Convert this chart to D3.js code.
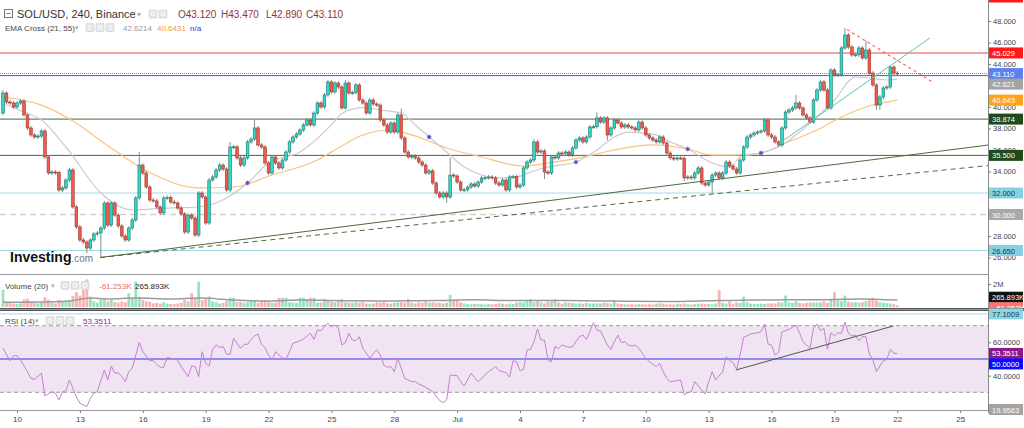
<!DOCTYPE html>
<html>
<head>
<meta charset="utf-8">
<script src="https://cdn.jsdelivr.net/npm/d3@7"></script>
<style>
  body { margin: 0; background: #fff; }
  svg { display: block; font-family: "Liberation Sans", Arial, sans-serif; }
</style>
</head>
<body>
<svg id="chart" width="1024" height="428"></svg>
<script>
// SOL/USD 4h candles, first one Jun 9 08:00 UTC
const firstCandle = new Date(Date.UTC(2021, 5, 9, 8));
const firstOpen = 39.44;
const closes = [
  41.30, 40.46, 40.37, 40.00, 40.37, 40.56, 39.26, 38.05, 37.40, 37.21,
  37.30, 37.77, 35.35, 33.86, 33.95, 33.90, 32.28, 32.47, 33.21, 34.14,
  30.70, 28.84, 27.63, 27.44, 26.88, 27.63, 28.19, 28.28, 28.74, 31.07,
  29.02, 31.07, 29.95, 28.93, 28.00, 27.63, 28.74, 29.49, 31.54, 34.60,
  33.86, 32.56, 31.35, 31.26, 30.70, 30.14, 31.54, 31.60, 31.16, 31.07,
  30.60, 30.05, 28.37, 29.95, 29.67, 28.09, 32.00, 31.63, 29.21, 33.21,
  33.49, 34.14, 34.60, 34.23, 32.28, 36.28, 36.30, 35.26, 34.60, 35.26,
  36.75, 37.02, 38.05, 36.47, 36.28, 34.79, 33.86, 35.35, 34.79, 34.33,
  35.07, 35.81, 36.75, 37.21, 37.49, 37.86, 38.33, 38.79, 38.33, 39.44,
  40.37, 40.00, 41.12, 42.33, 41.40, 42.23, 41.86, 39.91, 42.23, 41.30,
  41.35, 42.05, 40.65, 40.37, 39.44, 40.65, 40.28, 40.18, 38.79, 38.33,
  37.67, 38.51, 37.67, 39.26, 37.12, 35.81, 35.35, 35.44, 35.26, 34.88,
  34.60, 33.86, 34.06, 32.93, 32.00, 31.63, 32.00, 31.63, 33.67, 33.58,
  33.02, 32.28, 32.30, 32.55, 32.84, 32.65, 33.02, 33.40, 33.42, 33.49,
  33.40, 32.93, 32.74, 33.21, 32.28, 33.49, 33.52, 32.56, 32.74, 34.33,
  34.88, 35.07, 36.75, 35.81, 35.91, 33.95, 33.86, 35.35, 35.26, 35.72,
  35.70, 35.81, 35.53, 36.19, 36.93, 37.12, 36.75, 37.21, 38.14, 38.16,
  38.98, 38.60, 38.98, 37.40, 38.05, 38.79, 38.51, 38.14, 38.33, 38.14,
  38.05, 37.86, 38.60, 38.05, 37.40, 37.12, 36.93, 36.75, 37.21, 36.65,
  35.72, 35.26, 35.16, 35.26, 35.24, 33.40, 33.49, 33.40, 33.86, 34.33,
  32.93, 32.74, 33.02, 33.67, 33.86, 33.40, 33.86, 34.88, 34.51, 34.23,
  33.86, 35.07, 36.28, 37.21, 37.40, 37.58, 37.67, 37.77, 38.79, 37.40,
  37.21, 36.75, 36.47, 38.05, 39.53, 39.72, 39.91, 40.37, 39.91, 39.26,
  38.98, 38.60, 40.65, 41.58, 42.33, 41.58, 39.91, 43.44, 42.98, 43.00,
  45.49, 46.70, 45.58, 44.84, 44.86, 45.49, 44.56, 45.30, 43.16, 42.05,
  40.18, 40.93, 41.77, 41.86, 43.72, 43.16, 43.11
];
// visible long wicks, by candle index
const wickHigh = {0: 41.6, 39: 35.81, 65: 36.75, 72: 38.79, 98: 42.51, 114: 39.86, 128: 35.3,
  152: 37.0, 170: 39.5, 218: 39.0, 227: 41.12, 241: 47.35, 247: 46.2};
const wickLow = {24: 26.4, 28: 26.0, 127: 31.07, 155: 33.3, 173: 36.9, 195: 33.1, 203: 32.0,
  250: 39.7, 251: 39.75};
const wickPad = 0.18;

// volume in thousands
const volumes = [
  1500, 450, 380, 300, 280, 320, 650, 720, 480, 380,
  320, 420, 850, 640, 380, 300, 620, 420, 460, 520,
  950, 1300, 1000, 1500, 2400, 900, 520, 380, 650, 720,
  520, 620, 420, 380, 470, 420, 1200, 700, 2200, 900,
  620, 520, 460, 320, 360, 300, 420, 300, 260, 250,
  300, 360, 620, 500, 1200, 700, 2200, 600, 720, 900,
  500, 420, 300, 360, 520, 820, 800, 420, 450, 380,
  420, 560, 600, 380, 520, 600, 420, 380, 400, 800,
  800, 800, 420, 380, 360, 800, 800, 700, 800, 800,
  380, 400, 700, 520, 480, 420, 600, 680, 420, 380,
  360, 420, 380, 420, 300, 280, 300, 420, 380, 480,
  320, 300, 360, 400, 420, 380, 700, 360, 300, 400,
  360, 480, 380, 420, 360, 380, 300, 360, 1050, 640,
  640, 420, 320, 260, 240, 280, 260, 240, 220, 260,
  240, 260, 320, 280, 240, 300, 260, 380, 420, 380,
  510, 700, 420, 510, 400, 320, 480, 480, 670, 380,
  300, 400, 380, 340, 300, 320, 280, 340, 300, 320,
  320, 300, 380, 340, 300, 560, 300, 260, 240, 220,
  240, 220, 260, 240, 220, 240, 220, 280, 320, 300,
  240, 220, 220, 300, 260, 300, 240, 220, 260, 280,
  300, 260, 280, 240, 300, 1470, 380, 300, 480, 300,
  400, 360, 900, 420, 300, 280, 250, 300, 260, 300,
  320, 300, 420, 380, 990, 420, 380, 510, 360, 320,
  360, 380, 400, 400, 400, 510, 380, 670, 1280, 600,
  520, 990, 480, 400, 420, 380, 420, 520, 600, 800,
  560, 420, 400, 340, 300, 240, 150
];
const volMaPoints = [[0,420],[10,430],[19,520],[25,780],[30,700],[38,780],[48,700],[57,780],[66,600],
  [76,520],[85,600],[95,560],[110,520],[125,560],[135,620],[145,560],[160,560],[175,520],[190,480],
  [205,560],[215,600],[225,640],[235,640],[245,700],[256,600]];

// EMA Cross (21, 55) as [candle index, value]
const ema21Points = [[0,40.3],[6,39.53],[11,38.79],[18,36.28],[28,32.0],[37,30.42],[47,30.6],[56,30.7],
  [61,31.07],[70,32.93],[76,34.79],[85,35.81],[94,38.33],[97,39.4],[103,39.95],[108,39.72],[114,39.44],
  [118,38.33],[122,37.21],[127,35.81],[132,34.42],[137,33.67],[141,33.4],[147,33.49],[151,33.95],
  [156,34.42],[164,34.88],[170,36.0],[175,37.21],[179,37.67],[187,37.4],[190,36.9],[196,36.09],
  [203,34.79],[208,34.4],[211,35.35],[217,35.72],[223,36.47],[231,38.51],[238,40.65],[244,42.79],
  [248,42.7],[253,42.51],[256,42.62]];
const ema55Points = [[0,40.93],[11,40.18],[20,38.7],[30,36.4],[42,33.9],[56,32.47],[66,32.56],[77,33.67],
  [90,35.07],[96,36.19],[103,37.4],[111,37.86],[117,37.4],[127,36.19],[137,35.35],[149,34.51],
  [156,34.79],[165,35.26],[175,36.0],[186,36.47],[196,36.09],[203,35.53],[209,35.53],[217,35.72],
  [224,36.65],[233,37.86],[240,39.07],[247,40.0],[256,40.64]];
const emaCrosses = [[70,32.93],[122,37.21],[164,34.88],[196,36.09],[217,35.72]];

// RSI (14) as [candle index, value]
const rsiPoints = [
  [0,56.4],[2,49.0],[3,52.0],[4,52.0],[5,49.4],[7,42.4],[8,38.4],[9,37.8],[11,41.4],[12,27.8],
  [14,30.4],[15,29.4],[16,25.4],[17,30.4],[18,30.8],[19,37.4],[20,32.4],[21,27.4],[22,23.4],[24,21.4],
  [25,26.4],[26,29.4],[27,30.4],[29,43.4],[30,37.4],[31,45.8],[32,41.4],[33,41.8],[34,39.4],[35,36.4],
  [36,42.4],[37,44.4],[39,60.0],[40,54.4],[42,49.0],[43,49.0],[44,46.8],[45,45.0],[46,45.0],[47,51.0],
  [48,50.4],[50,49.4],[51,45.4],[53,39.4],[54,45.8],[55,45.4],[56,39.4],[57,54.4],[58,47.4],[59,45.8],
  [60,55.8],[61,58.4],[62,57.0],[63,57.4],[64,53.0],[65,52.8],[66,62.4],[67,59.4],[68,56.4],[69,58.8],
  [70,58.8],[71,61.8],[72,63.8],[73,65.0],[74,58.8],[75,56.8],[76,52.4],[77,49.4],[78,54.4],[79,52.4],
  [80,50.8],[81,49.8],[82,54.4],[83,59.4],[85,61.0],[86,62.0],[88,65.4],[89,61.8],[90,67.4],[91,67.0],
  [92,69.4],[93,71.4],[94,69.4],[95,70.4],[96,68.4],[97,58.4],[98,59.8],[99,65.4],[100,61.4],[101,61.0],
  [102,63.4],[103,56.4],[105,50.4],[106,53.4],[107,55.4],[108,52.4],[109,46.4],[110,45.0],[111,45.4],[112,42.4],
  [113,50.4],[115,38.4],[117,36.4],[118,36.4],[119,35.0],[121,33.0],[123,30.4],[125,25.0],[126,23.8],[127,25.4],
  [128,40.4],[130,40.0],[131,36.4],[132,33.8],[134,41.4],[135,38.8],[136,36.4],[138,40.4],[139,42.4],[141,45.4],
  [142,43.0],[144,41.8],[145,39.0],[146,49.0],[147,48.4],[148,43.0],[149,43.8],[150,55.4],[151,55.8],[152,60.4],
  [153,68.0],[154,61.4],[155,61.4],[156,49.4],[157,48.4],[158,57.4],[159,56.4],[160,58.4],[162,57.0],[163,57.4],
  [165,63.4],[166,64.4],[167,61.8],[168,66.4],[169,71.8],[170,67.4],[171,67.0],[173,58.4],[174,55.8],[175,60.4],
  [176,64.4],[177,59.8],[178,60.4],[179,58.4],[180,57.8],[181,58.4],[182,56.4],[184,50.4],[185,48.4],[187,45.4],
  [188,47.4],[189,42.4],[190,38.4],[191,36.4],[193,37.0],[194,37.4],[195,28.4],[196,29.8],[197,30.4],[198,36.4],
  [200,31.4],[201,29.0],[202,36.4],[203,42.4],[204,37.4],[206,42.4],[207,51.4],[208,49.0],[209,47.8],[210,43.8],
  [211,52.4],[212,63.0],[214,65.0],[216,65.8],[217,66.4],[218,71.0],[219,59.0],[220,58.4],[221,52.4],[222,53.8],
  [223,66.4],[225,67.8],[227,70.4],[228,65.8],[229,60.4],[231,56.4],[232,68.4],[233,71.0],[234,67.0],[235,68.4],
  [236,55.8],[237,65.8],[238,63.8],[239,65.8],[240,65.4],[241,72.2],[242,65.4],[243,63.8],[244,64.4],[245,61.0],
  [246,63.4],[247,63.4],[248,53.0],[249,49.4],[250,42.4],[251,45.8],[252,49.0],[253,49.8],[254,55.8],[255,53.4],
  [256,53.35]
];
const rsiTrend = [[209.8, 43.4], [254.8, 69.8]];

// drawn levels and trend lines (price units, candle index units)
const levelPrices = [45.029, 43.11, 42.92, 38.874, 35.5, 32.0, 30.0, 26.65];
const trendLines = [
  [[27.8, 26.0], [282, 36.46]],
  [[27.8, 26.0], [282, 34.56]],
  [[221.5, 36.46], [265.3, 46.42]],
  [[241.6, 47.21], [265.9, 42.37]]
];

// price ticks that are not hidden behind a value box
const priceTicks = [26, 28, 34, 36, 38, 40, 44, 46, 48];
const priceLabels = [45.029, 43.110, 42.621, 40.643, 38.874, 35.500, 32.000, 30.000, 26.650];
const rsiLabels = [77.1009, 53.3511, 50.0000, 19.9563];
const volLabels = [265.893, -61.253];
const dateTicks = ["2021-06-10", "2021-06-13", "2021-06-16", "2021-06-19", "2021-06-22", "2021-06-25",
  "2021-06-28", "2021-07-01", "2021-07-04", "2021-07-07", "2021-07-10", "2021-07-13", "2021-07-16",
  "2021-07-19", "2021-07-22", "2021-07-25"];
const dateLabels = ["10", "13", "16", "19", "22", "25", "28", "Jul", "4", "7", "10", "13", "16", "19", "22", "25"];

// ---------------------------------------------------------------
const svg = d3.select("#chart");
const axisX = 988;

const x = d3.scaleUtc()
  .domain([new Date(Date.UTC(2021, 5, 10)), new Date(Date.UTC(2021, 6, 25))])
  .range([17, 17 + 45 * 20.96]);
const y = d3.scaleLinear().domain([26, 48]).range([257.5, 21]);
const yVol = d3.scaleLinear().domain([0, 2000]).range([307, 284]);
const yRsi = d3.scaleLinear().domain([30, 70]).range([392.3, 325.7]);

const timeAt = i => new Date(+firstCandle + i * 4 * 3600e3);
const xi = i => x(timeAt(i));

const defs = svg.append("defs");
function addClip(id, x0, y0, w, h) {
  defs.append("clipPath").attr("id", id)
    .append("rect").attr("x", x0).attr("y", y0).attr("width", w).attr("height", h);
}
addClip("cMain", 0, 0, axisX, 274);
addClip("cVol", 0, 275, axisX, 33);
addClip("cRsi", 0, 311, axisX, 99);
addClip("cVolBox", axisX, 275, 40, 33);

// ---------- main price panel
const main = svg.append("g").attr("clip-path", "url(#cMain)");

const levelStyle = [
  { c: "#f6a3a3", w: 2 },
  { c: "#6f7fe6", w: 1, d: "1,1" },
  { c: "#3f56dd", w: 1 },
  { c: "#4a6540", w: 1 },
  { c: "#4a6540", w: 1 },
  { c: "#a2d8e4", w: 1 },
  { c: "#cfcfcf", w: 1.5, d: "6,4" },
  { c: "#a2d8e4", w: 1 }
];
main.selectAll(".level").data(levelPrices).enter().append("line")
  .attr("x1", 0).attr("x2", axisX)
  .attr("y1", d => y(d)).attr("y2", d => y(d))
  .attr("stroke", (d, i) => levelStyle[i].c)
  .attr("stroke-width", (d, i) => levelStyle[i].w)
  .attr("stroke-dasharray", (d, i) => levelStyle[i].d || null);

const emaLine = d3.line().x(d => xi(d[0])).y(d => y(d[1])).curve(d3.curveMonotoneX);
main.append("path").attr("d", emaLine(ema55Points))
  .attr("fill", "none").attr("stroke", "#fbc27e").attr("stroke-width", 1.2);
main.append("path").attr("d", emaLine(ema21Points))
  .attr("fill", "none").attr("stroke", "#cbcbcb").attr("stroke-width", 1.2);

const candles = closes.map((c, i) => {
  const o = i === 0 ? firstOpen : closes[i - 1];
  return {
    i, o, c,
    h: wickHigh[i] !== undefined ? wickHigh[i] : Math.max(o, c) + wickPad,
    l: wickLow[i] !== undefined ? wickLow[i] : Math.min(o, c) - wickPad,
    up: c >= o
  };
});

main.selectAll(".wick").data(candles).enter().append("line")
  .attr("x1", d => xi(d.i)).attr("x2", d => xi(d.i))
  .attr("y1", d => y(d.h)).attr("y2", d => y(d.l))
  .attr("stroke", "#7e9184").attr("stroke-width", 1);

main.selectAll(".body").data(candles).enter().append("rect")
  .attr("x", d => xi(d.i) - 1.35)
  .attr("width", 2.7)
  .attr("y", d => y(Math.max(d.o, d.c)))
  .attr("height", d => Math.max(1, Math.abs(y(d.o) - y(d.c))))
  .attr("fill", d => d.up ? "#2fd8c7" : "#ee5b4f")
  .attr("stroke", d => d.up ? "#1f7468" : "#a3342b")
  .attr("stroke-width", 0.6);

const tlStyle = [
  { c: "#4d6b3c", w: 1 },
  { c: "#4d6b3c", w: 1, d: "5,4" },
  { c: "#5fc3aa", w: 1 },
  { c: "#f26d6d", w: 1.2, d: "3,3" }
];
main.selectAll(".trend").data(trendLines).enter().append("line")
  .attr("x1", d => xi(d[0][0])).attr("y1", d => y(d[0][1]))
  .attr("x2", d => xi(d[1][0])).attr("y2", d => y(d[1][1]))
  .attr("stroke", (d, i) => tlStyle[i].c)
  .attr("stroke-width", (d, i) => tlStyle[i].w)
  .attr("stroke-dasharray", (d, i) => tlStyle[i].d || null);

main.selectAll(".cross").data(emaCrosses).enter().append("path")
  .attr("d", d3.symbol().type(d3.symbolAsterisk).size(14))
  .attr("transform", d => `translate(${xi(d[0])},${y(d[1])})`)
  .attr("stroke", "#5b4fd0").attr("stroke-width", 1.2).attr("fill", "none");

// investing.com watermark
const logo = main.append("text").attr("x", 10).attr("y", 262);
logo.append("tspan").text("Investing").attr("font-size", 14).attr("font-weight", "bold").attr("fill", "#111");
logo.append("tspan").text(".com").attr("font-size", 10).attr("fill", "#777");

// ---------- volume panel
const vol = svg.append("g").attr("clip-path", "url(#cVol)");
vol.selectAll(".vbar").data(candles).enter().append("rect")
  .attr("x", d => xi(d.i) - 1.4)
  .attr("width", 2.8)
  .attr("y", d => yVol(volumes[d.i]))
  .attr("height", d => yVol(0) - yVol(volumes[d.i]))
  .attr("fill", d => d.up ? "#95e3c3" : "#f8b4b0");
vol.append("path")
  .attr("d", d3.line().x(d => xi(d[0])).y(d => yVol(d[1])).curve(d3.curveMonotoneX)(volMaPoints))
  .attr("fill", "none").attr("stroke", "#9c9c9c").attr("stroke-width", 1.5);

// ---------- RSI panel
const rsi = svg.append("g").attr("clip-path", "url(#cRsi)");
rsi.append("rect").attr("x", 0).attr("width", axisX)
  .attr("y", yRsi(70)).attr("height", yRsi(30) - yRsi(70)).attr("fill", "#f1e4f2");
rsi.selectAll(".rl").data([70, 30]).enter().append("line")
  .attr("x1", 0).attr("x2", axisX).attr("y1", d => yRsi(d)).attr("y2", d => yRsi(d))
  .attr("stroke", "#9a9a9a").attr("stroke-dasharray", "4,3");
rsi.append("line").attr("x1", 0).attr("x2", axisX)
  .attr("y1", yRsi(rsiLabels[0])).attr("y2", yRsi(rsiLabels[0]))
  .attr("stroke", "#a5dbe6");
rsi.append("line").attr("x1", 0).attr("x2", axisX)
  .attr("y1", yRsi(50)).attr("y2", yRsi(50))
  .attr("stroke", "#948bf0").attr("stroke-width", 2);
rsi.append("path")
  .attr("d", d3.line().x(d => xi(d[0])).y(d => yRsi(d[1]))(rsiPoints))
  .attr("fill", "none").attr("stroke", "#c57fd2").attr("stroke-width", 1);
rsi.append("line")
  .attr("x1", xi(rsiTrend[0][0])).attr("y1", yRsi(rsiTrend[0][1]))
  .attr("x2", xi(rsiTrend[1][0])).attr("y2", yRsi(rsiTrend[1][1]))
  .attr("stroke", "#555").attr("stroke-width", 1);

// ---------- axes
function styleAxis(g, size) {
  g.select(".domain").remove();
  g.selectAll("line").attr("stroke", "#777");
  g.selectAll("text").attr("fill", "#444").attr("font-size", size)
    .attr("font-family", "'Liberation Sans', Arial, sans-serif");
}
svg.append("g").attr("transform", `translate(${axisX},0)`)
  .call(d3.axisRight(y).tickValues(priceTicks).tickFormat(d3.format(".3f")).tickSize(3).tickPadding(2))
  .call(g => styleAxis(g, 7.5));
svg.append("g").attr("transform", `translate(${axisX},0)`)
  .call(d3.axisRight(yVol).tickValues([2000]).tickFormat(() => "2M").tickSize(3).tickPadding(2))
  .call(g => styleAxis(g, 7.5));
svg.append("g").attr("transform", `translate(${axisX},0)`)
  .call(d3.axisRight(yRsi).tickValues([60, 40]).tickFormat(d3.format(".4f")).tickSize(3).tickPadding(2))
  .call(g => styleAxis(g, 7.5));
svg.append("g").attr("transform", "translate(0,410)")
  .call(d3.axisBottom(x).tickValues(dateTicks.map(s => new Date(s + "T00:00:00Z")))
    .tickFormat((d, i) => dateLabels[i]).tickSize(3).tickPadding(3))
  .call(g => styleAxis(g, 8));

// ---------- value boxes on the right axis
function placeBoxes(items, gap, dir, limit) {
  const sorted = items.slice().sort((a, b) => dir * (a.y - b.y));
  sorted.forEach((it, k) => {
    if (limit !== undefined) it.y = dir > 0 ? Math.min(it.y, limit) : Math.max(it.y, limit);
    if (k > 0) {
      const prev = sorted[k - 1];
      if (dir > 0 && it.y - prev.y < gap) it.y = prev.y + gap;
      if (dir < 0 && prev.y - it.y < gap) it.y = prev.y - gap;
    }
  });
  return items;
}
function drawBoxes(items, g) {
  g = g || svg.append("g");
  items.forEach(it => {
    g.append("rect").attr("x", axisX + 1).attr("y", it.y - 5.5).attr("width", 34).attr("height", 11).attr("fill", it.bg);
    g.append("text").attr("x", axisX + 4).attr("y", it.y + 3).attr("font-size", 7.5)
      .attr("fill", it.fg).text(it.text);
  });
}

// volume boxes sit under the panel separator
const volBoxStyle = [["#111", "#fff"], ["#ff7373", "#fff"]];
drawBoxes(placeBoxes(volLabels.map((v, i) => ({
  y: yVol(v), text: d3.format(".3f")(v) + "K", bg: volBoxStyle[i][0], fg: volBoxStyle[i][1]
})), 10.5, -1, 306.5), svg.append("g").attr("clip-path", "url(#cVolBox)"));

// ---------- frame
svg.append("line").attr("x1", 0).attr("x2", axisX).attr("y1", 274.5).attr("y2", 274.5).attr("stroke", "#9a9a9a");
svg.append("rect").attr("x", 0).attr("y", 308).attr("width", 1024).attr("height", 3).attr("fill", "#9a9a9a");
svg.append("line").attr("x1", 0).attr("x2", 1024).attr("y1", 308.5).attr("y2", 308.5).attr("stroke", "#555");
svg.append("line").attr("x1", 0).attr("x2", 1024).attr("y1", 310.5).attr("y2", 310.5).attr("stroke", "#555");
svg.append("line").attr("x1", 0).attr("x2", axisX).attr("y1", 410.5).attr("y2", 410.5).attr("stroke", "#999");
svg.append("line").attr("x1", axisX + 0.5).attr("x2", axisX + 0.5).attr("y1", 0).attr("y2", 413).attr("stroke", "#888");

const priceBoxStyle = [
  ["#ff1a1a", "#fff"], ["#5b80f2", "#fff"], ["#a3a3a3", "#fff"], ["#ffa31a", "#fff"],
  ["#1f4a1c", "#fff"], ["#1f4a1c", "#fff"], ["#86d0e0", "#173a55"], ["#a9a9a9", "#fff"], ["#86d0e0", "#173a55"]
];
drawBoxes(placeBoxes(priceLabels.map((p, i) => ({
  y: y(p), text: d3.format(".3f")(p), bg: priceBoxStyle[i][0], fg: priceBoxStyle[i][1]
})), 10.5, 1));

const rsiBoxStyle = [["#8fd3e3", "#173a55"], ["#8b1a8b", "#fff"], ["#0a0aff", "#fff"], ["#a3a3a3", "#fff"]];
drawBoxes(placeBoxes(rsiLabels.map((v, i) => ({
  y: yRsi(v), text: d3.format(".4f")(v), bg: rsiBoxStyle[i][0], fg: rsiBoxStyle[i][1]
})), 10.5, 1).map(it => (it.text === "19.9563" ? Object.assign(it, { y: 409.5 }) : it)));

// red label cut off at the top of the price scale
svg.append("rect").attr("x", axisX + 1).attr("y", -6).attr("width", 34).attr("height", 8.5).attr("fill", "#ff1a1a");

// ---------- legends
function icons(x0, yTop, n) {
  for (let k = 0; k < n; k++) {
    svg.append("rect").attr("x", x0 + k * 10).attr("y", yTop).attr("width", 8).attr("height", 8)
      .attr("rx", 1).attr("fill", "#e4e4e4").attr("stroke", "#d0d0d0").attr("stroke-width", 0.6);
    svg.append("circle").attr("cx", x0 + k * 10 + 4).attr("cy", yTop + 4).attr("r", 2)
      .attr("fill", "none").attr("stroke", "#fff").attr("stroke-width", 1);
  }
}
function txt(x0, y0, s, size, fill, weight) {
  return svg.append("text").attr("x", x0).attr("y", y0).attr("font-size", size)
    .attr("fill", fill).attr("font-weight", weight || null).text(s);
}

svg.append("rect").attr("x", 4.5).attr("y", 9.5).attr("width", 8).attr("height", 8)
  .attr("fill", "none").attr("stroke", "#777");
svg.append("line").attr("x1", 6.5).attr("x2", 10.5).attr("y1", 13.5).attr("y2", 13.5).attr("stroke", "#777");
txt(17, 18, "SOL/USD, 240, Binance", 11, "#333");
txt(137, 17, "▾", 8, "#aaa");
icons(149, 10, 2);
const ohlc = [["O", "43.120", 178], ["H", "43.470", 221], ["L", "42.890", 266], ["C", "43.110", 306]];
ohlc.forEach(([k, v, px]) => {
  const t = svg.append("text").attr("x", px).attr("y", 18).attr("font-size", 10);
  t.append("tspan").attr("fill", "#555").text(k);
  t.append("tspan").attr("fill", "#9b3030").text(v);
});

txt(5, 31, "EMA Cross (21, 55)", 8, "#444");
txt(75, 30, "▾", 7, "#aaa");
icons(86, 23.5, 3);
txt(123, 31, "42.6214", 8, "#999");
txt(157, 31, "40.6431", 8, "#f5a12a");
txt(190, 31, "n/a", 8, "#3434c8");

txt(5, 289, "Volume (20)", 8, "#444");
txt(51, 288, "▾", 7, "#aaa");
icons(61, 281.5, 3);
txt(99, 289, "-61.253K", 8, "#f06a6a");
txt(135, 289, "265.893K", 8, "#222");

txt(5, 324, "RSI (14)", 8, "#444");
txt(35, 323, "▾", 7, "#aaa");
icons(46, 316.5, 3);
txt(83, 324, "53.3511", 8, "#a020a0");
</script>
</body>
</html>
